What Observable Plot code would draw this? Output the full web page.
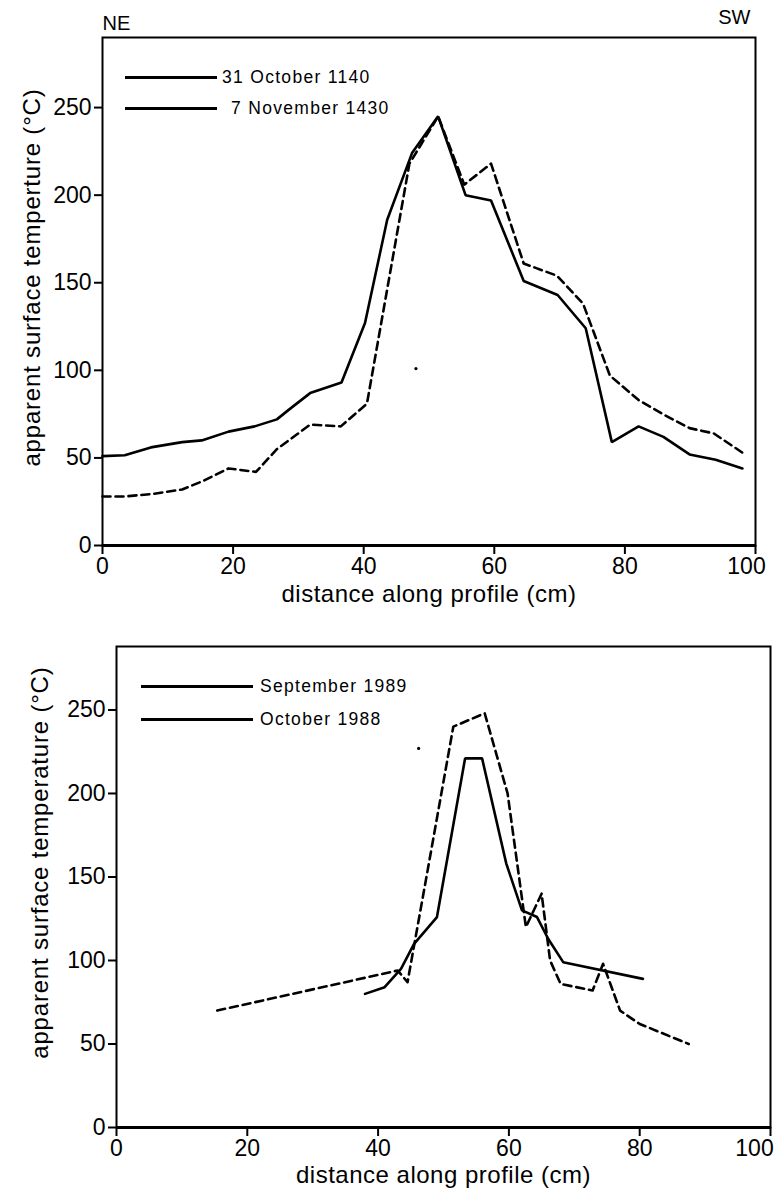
<!DOCTYPE html>
<html>
<head>
<meta charset="utf-8">
<script src="https://cdn.jsdelivr.net/npm/d3@7"></script>
<script src="https://cdn.jsdelivr.net/npm/@observablehq/plot@0.6"></script>
<style>
  html, body { margin: 0; padding: 0; background: #fff; }
  #page { position: relative; width: 774px; height: 1188px; overflow: hidden; background: #fff; font-family: "Liberation Sans", Arial, sans-serif; }
  .panel { position: absolute; left: 0; }
  .legend { position: absolute; font-size: 17.5px; letter-spacing: 1.3px; color: #000; }
  .legend .row { position: absolute; white-space: nowrap; display: flex; align-items: center; }
  .legend .swatch { display: inline-block; border-top: 3px solid #000; margin-right: 6px; }
</style>
</head>
<body>
<div id="page"></div>
<script>
// Profile A: distance (cm) and apparent surface temperature (°C)
const oct31X = [0, 3.4, 7.4, 12.2, 15.2, 19.3, 23.3, 26.7, 28.7, 31.8, 36.6, 40.2, 43.6, 47.4, 51.4, 55.6, 59.5, 64.5, 69.7, 74, 78, 82.1, 85.9, 89.9, 93.9, 98];
const oct31Y = [51, 51.5, 56, 59, 60, 65, 68, 72, 78, 87, 93, 127, 186, 224, 245, 200, 197, 151, 143, 124, 59, 68, 62, 52, 49, 44];
const nov7X = [0, 3.4, 7.8, 12.2, 15.5, 19.3, 23.5, 26.7, 31.8, 36.5, 40.5, 47, 51.4, 55.4, 59.5, 64.5, 69.6, 73.6, 77.7, 82.1, 85.8, 89.9, 93.6, 98];
const nov7Y = [28, 28, 29.5, 32, 37, 44, 42, 55, 69, 68, 81, 218, 245, 206, 218, 161, 154, 138, 97, 83, 75, 67, 64, 53];

// Profile B: distance (cm) and apparent surface temperature (°C)
const sep89X = [38, 41, 43.5, 45.5, 49, 53.3, 55.9, 59.6, 62, 64.3, 66, 68.3, 80.5];
const sep89Y = [80, 84, 95, 110, 126, 221, 221, 158, 130, 126, 113, 99, 89];
const oct88X = [15.4, 43, 44.5, 47.3, 51.5, 56.3, 59.8, 62.6, 65, 66.3, 67.9, 72.8, 74.4, 77, 80, 87.5];
const oct88Y = [70, 94, 87, 148, 240, 248, 200, 120, 140, 100, 86, 82, 98, 70, 62, 50];

// isolated specks on each sheet
const speckA = [{x: 48, y: 101}];
const speckB = [{x: 46.2, y: 227}];

const xTicks = [0, 20, 40, 60, 80, 100];
const xLastTick = [100];
const yTicks = [0, 50, 100, 150, 200, 250];
const xTitle = "distance along profile (cm)";

const toRows = (xs, ys) => xs.map((x, i) => ({x, y: ys[i]}));

const FONT = "'Liberation Sans', Arial, Helvetica, sans-serif";

function panel({height, margins, yMax, solid, dashed, speck, yLabel, yLabelDx, yLabelDy, xLabelDy, lastTickDx, corners}) {
  const axisStyle = {stroke: "#000", strokeWidth: 2, label: null, fill: "#000", fontSize: 23};
  const marks = [
    Plot.frame({stroke: "#000", strokeWidth: 2}),
    Plot.ruleY([0], {stroke: "#000", strokeWidth: 3}),
    // x ticks; the final label sits a little left of its tick
    Plot.axisX({ticks: xTicks, tickSize: 9, tickPadding: 3, tickFormat: d => (xLastTick.includes(d) ? "" : d), ...axisStyle}),
    Plot.axisX({ticks: xLastTick, tickSize: 0, tickPadding: 12, dx: lastTickDx, ...axisStyle}),
    Plot.axisY({ticks: yTicks, tickSize: 8, tickPadding: 3, ...axisStyle}),
    Plot.line(solid, {x: "x", y: "y", stroke: "#000", strokeWidth: 2.6, strokeLinejoin: "miter", curve: "linear"}),
    Plot.line(dashed, {x: "x", y: "y", stroke: "#000", strokeWidth: 2.6, strokeDasharray: "8,5", curve: "linear"}),
    Plot.dot(speck, {x: "x", y: "y", r: 1.6, fill: "#000", stroke: null}),
    Plot.text([yLabel], {frameAnchor: "top-left", rotate: -90, dx: yLabelDx, dy: yLabelDy, lineAnchor: "middle", textAnchor: "end", fontSize: 24, fill: "#000"}),
    Plot.text([xTitle], {frameAnchor: "bottom", dy: xLabelDy, lineAnchor: "bottom", fontSize: 24, fill: "#000", textAnchor: "middle"})
  ];
  if (corners) {
    marks.push(Plot.text([corners[0]], {frameAnchor: "top-left", dy: -22, dx: 0, lineAnchor: "top", textAnchor: "start", fontSize: 20, fill: "#000"}));
    marks.push(Plot.text([corners[1]], {frameAnchor: "top-right", dy: -28, dx: -5, lineAnchor: "top", textAnchor: "end", fontSize: 20, fill: "#000"}));
  }
  const chart = Plot.plot({
    width: 774,
    height,
    ...margins,
    x: {domain: [0, 100]},
    y: {domain: [0, yMax]},
    style: {fontFamily: FONT, fontSize: "23px", color: "#000", background: "none", overflow: "visible"},
    marks
  });
  // widen the spacing of the axis titles
  d3.select(chart).selectAll("text").each(function () {
    const t = this.textContent;
    if (t === yLabel) this.style.letterSpacing = "0.8px";
    else if (t === xTitle) this.style.letterSpacing = "0.5px";
  });
  return chart;
}

const page = document.getElementById("page");

const upperChart = panel({
  height: 610,
  margins: {marginTop: 37, marginBottom: 65, marginLeft: 102, marginRight: 19},
  yMax: 290,
  solid: toRows(oct31X, oct31Y),
  dashed: toRows(nov7X, nov7Y),
  speck: speckA,
  yLabel: "apparent surface temperture (°C)",
  yLabelDx: -70,
  yLabelDy: 51,
  xLabelDy: 56,
  lastTickDx: -9,
  corners: ["NE", "SW"]
});
upperChart.classList.add("panel");
upperChart.style.top = "0px";
page.appendChild(upperChart);

const lowerChart = panel({
  height: 578,
  margins: {marginTop: 36, marginBottom: 61, marginLeft: 116, marginRight: 4},
  yMax: 288,
  solid: toRows(sep89X, sep89Y),
  dashed: toRows(oct88X, oct88Y),
  speck: speckB,
  yLabel: "apparent surface temperature (°C)",
  yLabelDx: -76,
  yLabelDy: 20,
  xLabelDy: 55,
  lastTickDx: -16,
  corners: null
});
lowerChart.classList.add("panel");
lowerChart.style.top = "610px";
page.appendChild(lowerChart);

// Legends: both samples are drawn as solid strokes
function legend(left, topY, lineW, rows) {
  const box = document.createElement("div");
  box.className = "legend";
  box.style.left = left + "px";
  box.style.top = topY + "px";
  rows.forEach((r, i) => {
    const row = document.createElement("div");
    row.className = "row";
    row.style.top = (i * r.step) + "px";
    const sw = document.createElement("span");
    sw.className = "swatch";
    sw.style.width = lineW + "px";
    sw.style.marginRight = r.gap + "px";
    row.appendChild(sw);
    const t = document.createElement("span");
    t.textContent = r.label;
    row.appendChild(t);
    box.appendChild(row);
  });
  page.appendChild(box);
}
legend(125, 67, 92, [
  {label: "31 October 1140", step: 31, gap: 5},
  {label: "7 November 1430", step: 31, gap: 14}
]);
legend(141, 676, 112, [
  {label: "September 1989", step: 33, gap: 7},
  {label: "October 1988", step: 33, gap: 7}
]);
</script>
</body>
</html>
